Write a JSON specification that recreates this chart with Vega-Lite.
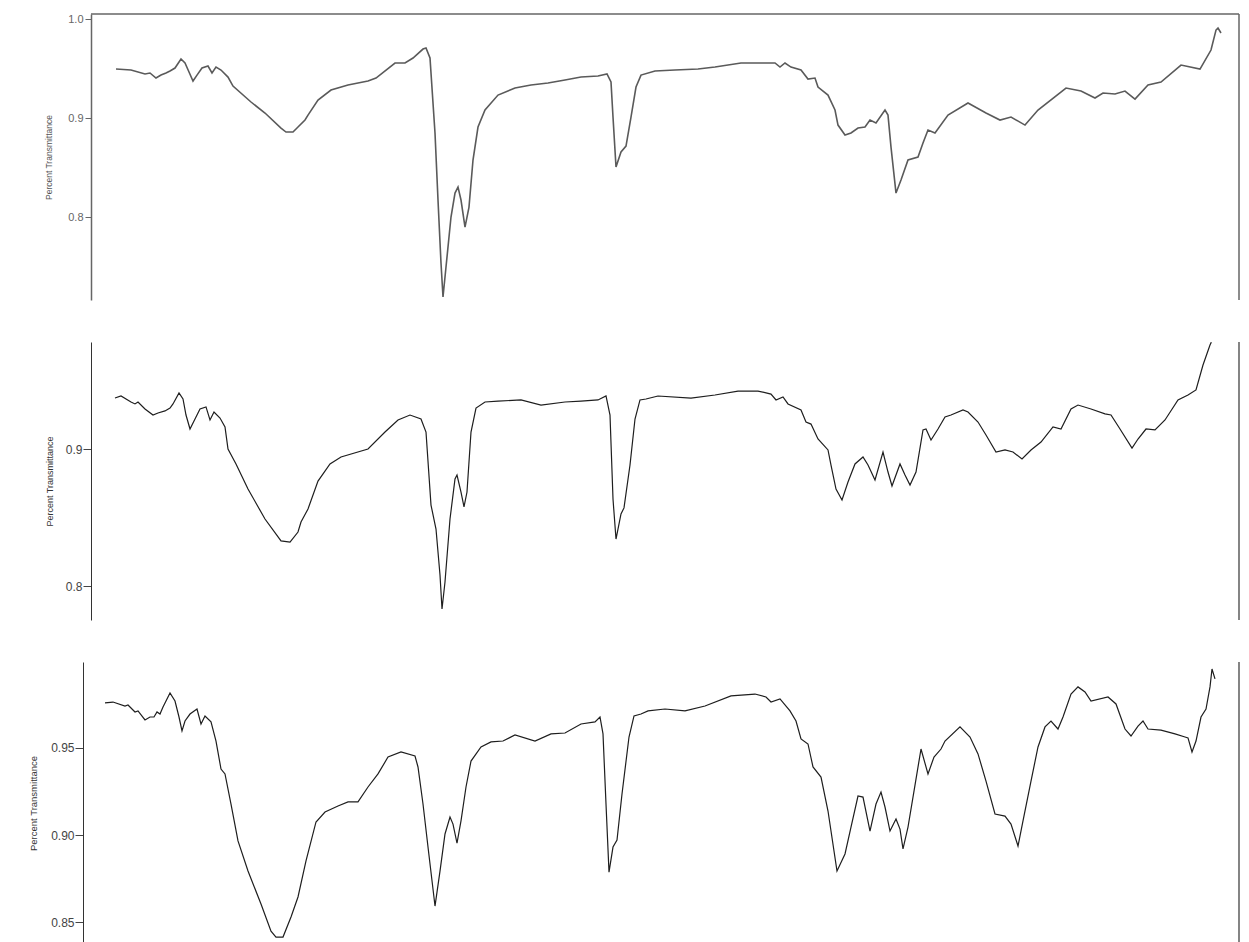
{
"$schema": "https://vega.github.io/schema/vega-lite/v6.json",
"background": "white",
"padding": {"left": 28, "top": 13, "right": 0, "bottom": 0},
"spacing": 40,
"config": {"view": {"stroke": null}, "axis": {"grid": false}},
"datasets": {
"p1": [
{"wn":3832,"t":0.9495},{"wn":3787,"t":0.9485},{"wn":3745,"t":0.9445},{"wn":3730,"t":0.9455},{"wn":3712,"t":0.9404},{"wn":3697,"t":0.9434},{"wn":3682,"t":0.9455},{"wn":3670,"t":0.9475},{"wn":3655,"t":0.9505},{"wn":3637,"t":0.9596},{"wn":3625,"t":0.9556},{"wn":3613,"t":0.9465},{"wn":3601,"t":0.9374},{"wn":3589,"t":0.9434},{"wn":3574,"t":0.9505},{"wn":3556,"t":0.9525},{"wn":3544,"t":0.9455},{"wn":3532,"t":0.9515},{"wn":3517,"t":0.9485},{"wn":3496,"t":0.9414},{"wn":3481,"t":0.9323},{"wn":3427,"t":0.9162},{"wn":3385,"t":0.9051},{"wn":3337,"t":0.8899},{"wn":3322,"t":0.8859},{"wn":3301,"t":0.8859},{"wn":3286,"t":0.8909},{"wn":3265,"t":0.898},{"wn":3256,"t":0.903},{"wn":3226,"t":0.9182},{"wn":3187,"t":0.9283},{"wn":3136,"t":0.9333},{"wn":3076,"t":0.9374},{"wn":3052,"t":0.9404},{"wn":2995,"t":0.9556},{"wn":2965,"t":0.9556},{"wn":2941,"t":0.9606},{"wn":2911,"t":0.9697},{"wn":2902,"t":0.9707},{"wn":2890,"t":0.9606},{"wn":2875,"t":0.8849},{"wn":2866,"t":0.8172},{"wn":2857,"t":0.7535},{"wn":2851,"t":0.7192},{"wn":2842,"t":0.7495},{"wn":2827,"t":0.8},{"wn":2815,"t":0.8242},{"wn":2806,"t":0.8303},{"wn":2797,"t":0.8172},{"wn":2785,"t":0.7899},{"wn":2773,"t":0.8101},{"wn":2761,"t":0.8576},{"wn":2746,"t":0.8909},{"wn":2725,"t":0.9081},{"wn":2686,"t":0.9232},{"wn":2635,"t":0.9303},{"wn":2587,"t":0.9333},{"wn":2536,"t":0.9354},{"wn":2485,"t":0.9384},{"wn":2437,"t":0.9414},{"wn":2386,"t":0.9424},{"wn":2359,"t":0.9445},{"wn":2347,"t":0.9364},{"wn":2341,"t":0.901},{"wn":2332,"t":0.8505},{"wn":2317,"t":0.8657},{"wn":2302,"t":0.8717},{"wn":2287,"t":0.901},{"wn":2272,"t":0.9313},{"wn":2257,"t":0.9434},{"wn":2215,"t":0.9475},{"wn":2155,"t":0.9485},{"wn":2086,"t":0.9495},{"wn":2035,"t":0.9515},{"wn":1957,"t":0.9556},{"wn":1897,"t":0.9556},{"wn":1855,"t":0.9556},{"wn":1840,"t":0.9515},{"wn":1825,"t":0.9556},{"wn":1807,"t":0.9515},{"wn":1777,"t":0.9485},{"wn":1756,"t":0.9394},{"wn":1735,"t":0.9404},{"wn":1726,"t":0.9313},{"wn":1696,"t":0.9232},{"wn":1675,"t":0.9081},{"wn":1666,"t":0.8929},{"wn":1645,"t":0.8828},{"wn":1627,"t":0.8849},{"wn":1606,"t":0.8899},{"wn":1585,"t":0.8909},{"wn":1570,"t":0.898},{"wn":1552,"t":0.895},{"wn":1525,"t":0.9081},{"wn":1516,"t":0.903},{"wn":1507,"t":0.8707},{"wn":1492,"t":0.8242},{"wn":1477,"t":0.8374},{"wn":1456,"t":0.8576},{"wn":1426,"t":0.8606},{"wn":1411,"t":0.8747},{"wn":1396,"t":0.8879},{"wn":1375,"t":0.8849},{"wn":1336,"t":0.903},{"wn":1276,"t":0.9152},{"wn":1222,"t":0.9051},{"wn":1180,"t":0.898},{"wn":1147,"t":0.901},{"wn":1105,"t":0.8929},{"wn":1066,"t":0.9081},{"wn":982,"t":0.9303},{"wn":937,"t":0.9273},{"wn":895,"t":0.9202},{"wn":871,"t":0.9253},{"wn":835,"t":0.9243},{"wn":805,"t":0.9273},{"wn":775,"t":0.9192},{"wn":736,"t":0.9333},{"wn":697,"t":0.9364},{"wn":637,"t":0.9535},{"wn":580,"t":0.9495},{"wn":547,"t":0.9687},{"wn":532,"t":0.9889},{"wn":526,"t":0.9909},{"wn":517,"t":0.9859}
],
"p2": [
{"wn":3835,"t":0.9372},{"wn":3817,"t":0.9387},{"wn":3787,"t":0.9343},{"wn":3775,"t":0.9329},{"wn":3766,"t":0.9343},{"wn":3745,"t":0.9292},{"wn":3721,"t":0.9248},{"wn":3706,"t":0.9263},{"wn":3685,"t":0.9278},{"wn":3670,"t":0.9299},{"wn":3661,"t":0.9329},{"wn":3643,"t":0.9409},{"wn":3631,"t":0.9365},{"wn":3622,"t":0.9248},{"wn":3610,"t":0.9146},{"wn":3595,"t":0.9219},{"wn":3580,"t":0.9292},{"wn":3562,"t":0.9307},{"wn":3550,"t":0.9212},{"wn":3538,"t":0.927},{"wn":3520,"t":0.9226},{"wn":3505,"t":0.9161},{"wn":3496,"t":0.9},{"wn":3472,"t":0.8891},{"wn":3436,"t":0.8708},{"wn":3385,"t":0.8489},{"wn":3337,"t":0.8329},{"wn":3310,"t":0.8321},{"wn":3286,"t":0.8394},{"wn":3277,"t":0.8467},{"wn":3256,"t":0.8562},{"wn":3226,"t":0.8766},{"wn":3190,"t":0.8891},{"wn":3157,"t":0.8942},{"wn":3076,"t":0.9},{"wn":3025,"t":0.9124},{"wn":2986,"t":0.9212},{"wn":2950,"t":0.9248},{"wn":2917,"t":0.9219},{"wn":2902,"t":0.9124},{"wn":2887,"t":0.8591},{"wn":2872,"t":0.8416},{"wn":2860,"t":0.808},{"wn":2854,"t":0.7832},{"wn":2845,"t":0.8029},{"wn":2830,"t":0.8489},{"wn":2815,"t":0.8781},{"wn":2809,"t":0.881},{"wn":2797,"t":0.8686},{"wn":2788,"t":0.8577},{"wn":2779,"t":0.8686},{"wn":2767,"t":0.9124},{"wn":2752,"t":0.9299},{"wn":2725,"t":0.9343},{"wn":2686,"t":0.935},{"wn":2617,"t":0.9358},{"wn":2557,"t":0.9321},{"wn":2485,"t":0.9343},{"wn":2437,"t":0.935},{"wn":2386,"t":0.9358},{"wn":2362,"t":0.9387},{"wn":2350,"t":0.9248},{"wn":2341,"t":0.8635},{"wn":2332,"t":0.8343},{"wn":2317,"t":0.8526},{"wn":2308,"t":0.857},{"wn":2290,"t":0.8883},{"wn":2275,"t":0.9219},{"wn":2260,"t":0.9358},{"wn":2242,"t":0.9365},{"wn":2206,"t":0.9387},{"wn":2107,"t":0.9372},{"wn":2035,"t":0.9394},{"wn":1966,"t":0.9423},{"wn":1906,"t":0.9423},{"wn":1867,"t":0.9401},{"wn":1852,"t":0.9358},{"wn":1831,"t":0.938},{"wn":1816,"t":0.9329},{"wn":1777,"t":0.9285},{"wn":1762,"t":0.9197},{"wn":1747,"t":0.9182},{"wn":1726,"t":0.9073},{"wn":1696,"t":0.8993},{"wn":1687,"t":0.8883},{"wn":1672,"t":0.8708},{"wn":1654,"t":0.8628},{"wn":1636,"t":0.8759},{"wn":1615,"t":0.8891},{"wn":1591,"t":0.8942},{"wn":1576,"t":0.8883},{"wn":1555,"t":0.8774},{"wn":1531,"t":0.8978},{"wn":1516,"t":0.8832},{"wn":1504,"t":0.873},{"wn":1480,"t":0.8891},{"wn":1465,"t":0.881},{"wn":1450,"t":0.8737},{"wn":1432,"t":0.8832},{"wn":1411,"t":0.9139},{"wn":1402,"t":0.9146},{"wn":1387,"t":0.9066},{"wn":1366,"t":0.9146},{"wn":1345,"t":0.9234},{"wn":1327,"t":0.9248},{"wn":1291,"t":0.9285},{"wn":1276,"t":0.927},{"wn":1246,"t":0.9197},{"wn":1222,"t":0.9102},{"wn":1192,"t":0.8978},{"wn":1165,"t":0.8993},{"wn":1141,"t":0.8978},{"wn":1114,"t":0.8927},{"wn":1087,"t":0.8993},{"wn":1057,"t":0.9051},{"wn":1021,"t":0.9161},{"wn":997,"t":0.9146},{"wn":967,"t":0.9292},{"wn":946,"t":0.9321},{"wn":907,"t":0.9292},{"wn":865,"t":0.9256},{"wn":847,"t":0.9248},{"wn":820,"t":0.9146},{"wn":784,"t":0.9007},{"wn":766,"t":0.9073},{"wn":742,"t":0.9146},{"wn":715,"t":0.9139},{"wn":685,"t":0.9212},{"wn":646,"t":0.9358},{"wn":616,"t":0.9394},{"wn":592,"t":0.9431},{"wn":571,"t":0.9613},{"wn":550,"t":0.9759},{"wn":546,"t":0.978}
],
"p3": [
{"wn":3865,"t":0.9759},{"wn":3841,"t":0.9764},{"wn":3805,"t":0.9741},{"wn":3796,"t":0.9747},{"wn":3775,"t":0.9707},{"wn":3766,"t":0.9713},{"wn":3745,"t":0.9661},{"wn":3730,"t":0.9678},{"wn":3718,"t":0.9678},{"wn":3709,"t":0.9707},{"wn":3700,"t":0.9695},{"wn":3691,"t":0.9736},{"wn":3682,"t":0.977},{"wn":3670,"t":0.9816},{"wn":3655,"t":0.977},{"wn":3643,"t":0.9678},{"wn":3634,"t":0.9598},{"wn":3625,"t":0.9655},{"wn":3610,"t":0.9695},{"wn":3589,"t":0.9724},{"wn":3577,"t":0.9638},{"wn":3565,"t":0.9684},{"wn":3547,"t":0.965},{"wn":3532,"t":0.954},{"wn":3517,"t":0.9379},{"wn":3505,"t":0.9351},{"wn":3487,"t":0.9178},{"wn":3466,"t":0.8966},{"wn":3436,"t":0.8793},{"wn":3397,"t":0.8604},{"wn":3367,"t":0.8448},{"wn":3352,"t":0.8414},{"wn":3331,"t":0.8414},{"wn":3307,"t":0.8529},{"wn":3286,"t":0.8644},{"wn":3262,"t":0.8851},{"wn":3232,"t":0.9075},{"wn":3205,"t":0.9132},{"wn":3166,"t":0.9167},{"wn":3136,"t":0.919},{"wn":3106,"t":0.919},{"wn":3076,"t":0.9276},{"wn":3046,"t":0.9351},{"wn":3016,"t":0.9448},{"wn":2977,"t":0.9477},{"wn":2935,"t":0.9454},{"wn":2926,"t":0.9391},{"wn":2911,"t":0.9178},{"wn":2896,"t":0.8931},{"wn":2875,"t":0.8592},{"wn":2860,"t":0.8793},{"wn":2845,"t":0.9006},{"wn":2830,"t":0.9103},{"wn":2821,"t":0.9063},{"wn":2809,"t":0.8954},{"wn":2797,"t":0.9081},{"wn":2782,"t":0.9276},{"wn":2767,"t":0.9425},{"wn":2737,"t":0.9506},{"wn":2707,"t":0.9535},{"wn":2671,"t":0.954},{"wn":2635,"t":0.9575},{"wn":2575,"t":0.954},{"wn":2527,"t":0.9581},{"wn":2485,"t":0.9586},{"wn":2437,"t":0.9638},{"wn":2395,"t":0.965},{"wn":2380,"t":0.9678},{"wn":2371,"t":0.9581},{"wn":2362,"t":0.9178},{"wn":2353,"t":0.8787},{"wn":2341,"t":0.8931},{"wn":2329,"t":0.8971},{"wn":2314,"t":0.9236},{"wn":2293,"t":0.9563},{"wn":2278,"t":0.9684},{"wn":2257,"t":0.9695},{"wn":2236,"t":0.9713},{"wn":2185,"t":0.9724},{"wn":2125,"t":0.9713},{"wn":2065,"t":0.9741},{"wn":1987,"t":0.9799},{"wn":1915,"t":0.981},{"wn":1882,"t":0.9793},{"wn":1867,"t":0.9764},{"wn":1840,"t":0.9782},{"wn":1810,"t":0.9713},{"wn":1792,"t":0.9655},{"wn":1777,"t":0.9552},{"wn":1756,"t":0.9523},{"wn":1741,"t":0.9391},{"wn":1717,"t":0.9333},{"wn":1696,"t":0.9138},{"wn":1669,"t":0.8793},{"wn":1645,"t":0.8891},{"wn":1627,"t":0.9046},{"wn":1606,"t":0.9224},{"wn":1591,"t":0.9218},{"wn":1570,"t":0.9023},{"wn":1552,"t":0.9178},{"wn":1537,"t":0.9247},{"wn":1525,"t":0.9161},{"wn":1510,"t":0.9023},{"wn":1492,"t":0.9092},{"wn":1480,"t":0.9034},{"wn":1471,"t":0.892},{"wn":1456,"t":0.9046},{"wn":1435,"t":0.9287},{"wn":1417,"t":0.9494},{"wn":1396,"t":0.9351},{"wn":1378,"t":0.9448},{"wn":1357,"t":0.9494},{"wn":1345,"t":0.954},{"wn":1300,"t":0.9621},{"wn":1270,"t":0.9563},{"wn":1246,"t":0.9466},{"wn":1222,"t":0.931},{"wn":1195,"t":0.9121},{"wn":1165,"t":0.9109},{"wn":1147,"t":0.9063},{"wn":1126,"t":0.8937},{"wn":1111,"t":0.9081},{"wn":1087,"t":0.931},{"wn":1066,"t":0.9506},{"wn":1045,"t":0.9621},{"wn":1027,"t":0.9655},{"wn":1006,"t":0.9609},{"wn":991,"t":0.9678},{"wn":967,"t":0.981},{"wn":946,"t":0.9851},{"wn":925,"t":0.9822},{"wn":907,"t":0.977},{"wn":856,"t":0.9793},{"wn":832,"t":0.9753},{"wn":805,"t":0.9609},{"wn":787,"t":0.9569},{"wn":766,"t":0.9626},{"wn":751,"t":0.9655},{"wn":736,"t":0.9609},{"wn":697,"t":0.9603},{"wn":655,"t":0.9581},{"wn":625,"t":0.9563},{"wn":616,"t":0.9558},{"wn":604,"t":0.9477},{"wn":592,"t":0.954},{"wn":577,"t":0.9678},{"wn":562,"t":0.9724},{"wn":550,"t":0.9851},{"wn":544,"t":0.9954},{"wn":535,"t":0.9897}
]
},
"vconcat": [
{
"width": 1148, "height": 286,
"resolve": {"axis": {"x": "independent", "y": "independent"}},
"layer": [
{"data": {"name": "p1"},
 "mark": {"type": "line", "color": "#5a5a5a", "strokeWidth": 1.6, "clip": true},
 "encoding": {
  "x": {"field": "wn", "type": "quantitative", "scale": {"domain": [463, 3907], "reverse": true, "nice": false, "zero": false}, "axis": null},
  "y": {"field": "t", "type": "quantitative", "scale": {"domain": [0.7162, 1.0051], "nice": false, "zero": false},
   "axis": {"title": "Percent Transmittance", "values": [0.8, 0.9, 1.0], "format": ".1f", "tickSize": 6, "labelPadding": 2, "labelFont": "Liberation Sans", "labelFontSize": 11, "labelColor": "#666", "titleFont": "Liberation Sans", "titleFontSize": 8.5, "titleFontWeight": "normal", "titleColor": "#555", "titlePadding": 14, "domainColor": "#666", "tickColor": "#666", "domainWidth": 1.5}}
 }},
{"data": {"values": [{}]},
 "mark": {"type": "rule", "color": "#666", "strokeWidth": 1.5},
 "encoding": {"x": {"datum": 463, "type": "quantitative", "axis": null}}},
{"data": {"values": [{}]},
 "mark": {"type": "rule", "color": "#666", "strokeWidth": 1.5},
 "encoding": {"y": {"datum": 1.0051, "type": "quantitative", "axis": null}}}
]
},
{
"width": 1148, "height": 278,
"layer": [
{"data": {"name": "p2"},
 "mark": {"type": "line", "color": "#1e1e1e", "strokeWidth": 1.2, "clip": true},
 "encoding": {
  "x": {"field": "wn", "type": "quantitative", "scale": {"domain": [463, 3907], "reverse": true, "nice": false, "zero": false}, "axis": null},
  "y": {"field": "t", "type": "quantitative", "scale": {"domain": [0.7752, 0.9781], "nice": false, "zero": false},
   "axis": {"title": "Percent Transmittance", "values": [0.8, 0.9], "format": ".1f", "tickSize": 8, "labelPadding": 1, "labelFont": "Liberation Sans", "labelFontSize": 12, "labelColor": "#444", "titleFont": "Liberation Sans", "titleFontSize": 9, "titleFontWeight": "normal", "titleColor": "#333", "titlePadding": 11, "domainColor": "#333", "tickColor": "#444"}}
 }},
{"data": {"values": [{}]},
 "mark": {"type": "rule", "color": "#333", "strokeWidth": 1.2},
 "encoding": {"x": {"datum": 463, "type": "quantitative", "axis": null}}}
]
},
{
"width": 1148, "height": 282,
"layer": [
{"data": {"name": "p3"},
 "mark": {"type": "line", "color": "#1e1e1e", "strokeWidth": 1.2, "clip": true},
 "encoding": {
  "x": {"field": "wn", "type": "quantitative", "scale": {"domain": [463, 3907], "reverse": true, "nice": false, "zero": false}, "axis": null},
  "y": {"field": "t", "type": "quantitative", "scale": {"domain": [0.8374, 0.9994], "nice": false, "zero": false},
   "axis": {"title": "Percent Transmittance", "values": [0.85, 0.9, 0.95], "format": ".2f", "offset": 8, "tickSize": 8, "labelPadding": 1, "labelFont": "Liberation Sans", "labelFontSize": 12, "labelColor": "#444", "titleFont": "Liberation Sans", "titleFontSize": 9.5, "titleFontWeight": "normal", "titleColor": "#333", "titlePadding": 12, "domainColor": "#333", "tickColor": "#444"}}
 }},
{"data": {"values": [{}]},
 "mark": {"type": "rule", "color": "#333", "strokeWidth": 1.2},
 "encoding": {"x": {"datum": 463, "type": "quantitative", "axis": null}}}
]
}
]
}
